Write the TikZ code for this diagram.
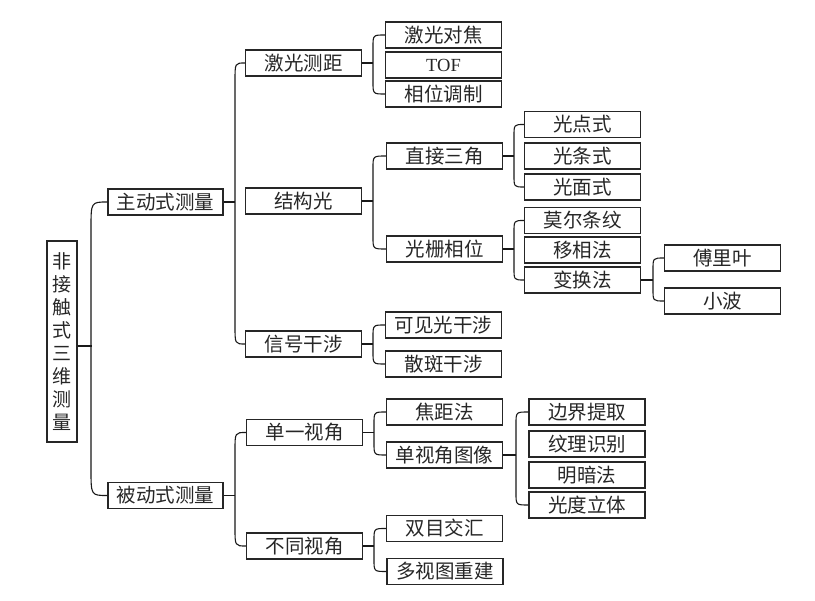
\documentclass[tikz,border=0pt]{standalone}
\usepackage{fontspec}
\setmainfont{Noto Sans CJK SC}
\newfontfamily\latinfont{Liberation Serif}
\usetikzlibrary{calc}
\tikzset{
  box/.style={draw=black!85, line width=1.1pt, minimum width=116pt, minimum height=26pt,
    inner sep=0pt, font=\fontsize{19.5}{22}\selectfont, text=black!85},
  rootbox/.style={draw=black!85, line width=1.1pt, minimum width=30pt, minimum height=201pt,
    inner sep=0pt, align=center, font=\fontsize{19}{23}\selectfont, text=black!85},
  conn/.style={draw=black!90, line width=1.1pt},
}
\newcommand\mybracket[5]{% parent, first, last, bar x, dy
  \coordinate (bx) at (#4,0);
  \draw[conn] (#1.east) -- (#1.east -| bx);
  \draw[conn] (#2.west) .. controls (#2.west -| bx) .. ($(#2.west -| bx)+(0,#5)$)
     -- ($(#3.west -| bx)+(0,-#5)$) .. controls (#3.west -| bx) .. (#3.west);
}
\begin{document}
\begin{tikzpicture}[x=1pt,y=-1pt]
\useasboundingbox (0,0) rectangle (815,601);
% root
\node[rootbox] (root) at (62,341.5) {非\\接\\触\\式\\三\\维\\测\\量};
% level 1
\node[box, minimum width=115pt] (zd) at (165.5,202) {主动式测量};
\node[box, minimum width=115pt] (bd) at (165.5,495.5) {被动式测量};
% level 2
\node[box] (jgcj) at (303.5,63) {激光测距};
\node[box] (jgg) at (303.5,201) {结构光};
\node[box] (xhgs) at (303.5,344) {信号干涉};
\node[box] (dysj) at (304.5,432.5) {单一视角};
\node[box] (btsj) at (304.5,546) {不同视角};
% level 3
\node[box] (jgdj) at (443.5,35) {激光对焦};
\node[box, font=\latinfont\fontsize{18.5}{22}\selectfont] (tof) at (443.5,65) {TOF};
\node[box] (xwtz) at (443.5,94) {相位调制};
\node[box] (zjsj) at (444.5,156) {直接三角};
\node[box] (gsxw) at (444.5,249) {光栅相位};
\node[box] (kjggs) at (443.5,325) {可见光干涉};
\node[box] (sbgs) at (443.5,364) {散斑干涉};
\node[box] (jjf) at (444.5,412) {焦距法};
\node[box] (dsjtx) at (444.5,455) {单视角图像};
\node[box] (smjh) at (444.5,528.5) {双目交汇};
\node[box] (dstcj) at (445,571.5) {多视图重建};
% level 4
\node[box] (gds) at (582.5,124.5) {光点式};
\node[box] (gts) at (582.5,156) {光条式};
\node[box] (gms) at (582.5,187) {光面式};
\node[box] (mewl) at (582.5,220.5) {莫尔条纹};
\node[box] (yxf) at (582.5,250) {移相法};
\node[box] (bhf) at (582.5,280) {变换法};
\node[box] (bjtq) at (587,412) {边界提取};
\node[box] (wlsb) at (587,444) {纹理识别};
\node[box] (maf) at (587,475) {明暗法};
\node[box] (gdlt) at (587,505) {光度立体};
% level 5
\node[box] (flh) at (722.5,258) {傅里叶};
\node[box] (xb) at (722.5,301) {小波};
% connectors
\draw[conn] ($(root.east)+(0,4.5)$) -- ++(14,0);
\coordinate (rb) at (91,0);
\draw[conn] (zd.west) .. controls (zd.west -| rb) .. ($(zd.west -| rb)+(0,26)$)
   -- ($(bd.west -| rb)+(0,-26)$) .. controls (bd.west -| rb) .. (bd.west);
\mybracket{zd}{jgcj}{xhgs}{235}{18}
\mybracket{bd}{dysj}{btsj}{235}{18}
\mybracket{jgcj}{jgdj}{xwtz}{373}{12}
\mybracket{jgg}{zjsj}{gsxw}{373}{12}
\mybracket{xhgs}{kjggs}{sbgs}{373}{12}
\mybracket{dysj}{jjf}{dsjtx}{374}{12}
\mybracket{btsj}{smjh}{dstcj}{374}{12}
\mybracket{zjsj}{gds}{gms}{514}{12}
\mybracket{gsxw}{mewl}{bhf}{514}{12}
\mybracket{dsjtx}{bjtq}{gdlt}{516}{12}
\mybracket{bhf}{flh}{xb}{653}{12}
\end{tikzpicture}
\end{document}
